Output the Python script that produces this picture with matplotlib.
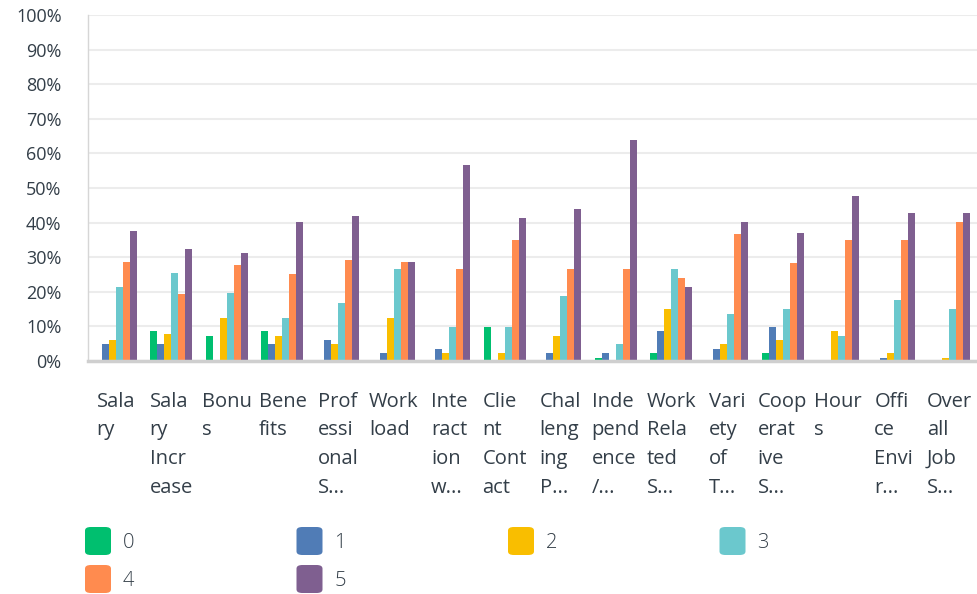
import numpy as np
import matplotlib
matplotlib.use('Agg')
import matplotlib.pyplot as plt
from matplotlib.patches import FancyBboxPatch


labels = ['Sala\nry', 'Sala\nry\nIncr\nease', 'Bonu\ns', 'Bene\nfits',
          'Prof\nessi\nonal\nS...', 'Work\nload', 'Inte\nract\nion\nw...',
          'Clie\nnt\nCont\nact', 'Chal\nleng\ning\nP...', 'Inde\npend\nence\n/...',
          'Work\nRela\nted\nS...', 'Vari\nety\nof\nT...', 'Coop\nerat\nive\nS...',
          'Hour\ns', 'Offi\nce\nEnvi\nr...', 'Over\nall\nJob\nS...']

series_names = ['0', '1', '2', '3', '4', '5']
colors = ['#00bf6f', '#507cb6', '#f9be00', '#6bc8cd', '#ff8b4f', '#7f5f90']

# percent of answers per rating, one list per rating
r0 = [0.0, 8.7, 7.2, 8.7, 0.0, 0.0, 0.0, 9.7, 0.0, 0.8, 2.2, 0.0, 2.2, 0.0, 0.0, 0.0]
r1 = [4.9, 4.9, 0.0, 4.9, 6.0, 2.2, 3.4, 0.0, 2.2, 2.2, 8.6, 3.4, 9.8, 0.0, 0.8, 0.0]
r2 = [6.1, 7.8, 12.4, 7.2, 4.8, 12.4, 2.2, 2.2, 7.1, 0.0, 15.0, 4.8, 6.0, 8.6, 2.2, 0.8]
r3 = [21.3, 25.4, 19.6, 12.4, 16.7, 26.5, 9.7, 9.7, 18.7, 4.8, 26.5, 13.5, 15.0, 7.1, 17.6, 15.0]
r4 = [28.6, 19.3, 27.7, 25.1, 29.2, 28.6, 26.5, 34.9, 26.5, 26.5, 23.9, 36.7, 28.3, 35.0, 35.0, 40.2]
r5 = [37.5, 32.3, 31.2, 40.1, 41.9, 28.6, 56.7, 41.3, 43.9, 63.9, 21.3, 40.2, 37.0, 47.7, 42.8, 42.8]

text_color = '#333e48'
font = 'Open Sans'


def main():
    fig = plt.figure(figsize=(9.77, 5.94), dpi=100)
    ax = fig.add_axes([88 / 977, 1 - 361 / 594, 1 - 88 / 977, (361 - 15) / 594])

    x = np.arange(len(labels))
    w = 0.126
    for i, vals in enumerate([r0, r1, r2, r3, r4, r5]):
        ax.bar(x + (i - 2.5) * w, vals, width=w, color=colors[i], zorder=3)

    ax.set_xlim(-0.5, len(labels) - 0.5)
    ax.set_ylim(0, 100)
    ax.set_yticks(np.arange(0, 101, 10))
    ax.set_yticklabels(['%d%%' % v for v in range(0, 101, 10)],
                       fontsize=13, color=text_color, family=font)
    ax.tick_params(axis='y', length=0, pad=19)
    ax.set_xticks([])
    ax.grid(axis='y', color='#ececec', linewidth=1.5, zorder=0)
    for s in ['top', 'right']:
        ax.spines[s].set_visible(False)
    ax.spines['left'].set_color('#d6d6d6')
    ax.spines['left'].set_linewidth(1)
    ax.spines['bottom'].set_color('#cfcfcf')
    ax.spines['bottom'].set_linewidth(2.5)
    ax.spines['bottom'].set_zorder(4)

    # wrapped category names, block centred under each group
    for i, lab in enumerate(labels):
        ax.text(i, -8.9, lab, ha='center', va='top', multialignment='left',
                fontsize=14.5, color=text_color, family=font, linespacing=1.58)

    # legend: rounded swatches in a 4-column grid
    for i, name in enumerate(series_names):
        col, row = i % 4, i // 4
        lx = 85 + col * 211.5
        ly = 527 + row * 38
        sw = FancyBboxPatch((lx / 977, 1 - (ly + 28) / 594), 26 / 977, 28 / 594,
                            boxstyle='round,pad=0,rounding_size=0.006',
                            transform=fig.transFigure, facecolor=colors[i],
                            edgecolor='none')
        fig.patches.append(sw)
        fig.text((lx + 38) / 977, 1 - (ly + 16) / 594, name, ha='left', va='center',
                 fontsize=14.5, color=text_color, family=font, fontweight='light')

    fig.savefig('out.png', dpi=100)


if __name__ == '__main__':
    main()
